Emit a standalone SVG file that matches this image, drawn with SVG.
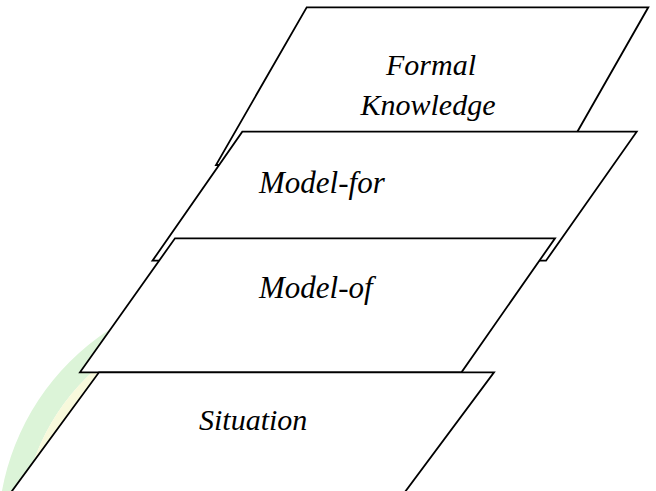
<svg xmlns="http://www.w3.org/2000/svg" width="656" height="491" viewBox="0 0 656 491">
  <style>
    .layer { fill: #ffffff; stroke: #000000; stroke-width: 1.8; stroke-linejoin: miter; }
    .lbl { font-family: "Liberation Serif", "Times New Roman", serif; font-style: italic; font-size: 30px; fill: #000000; }
    .big { font-size: 31px; }
  </style>
  <rect x="0" y="0" width="656" height="491" fill="#ffffff"/>
  <g id="watermark" fill="none">
    <path d="M 9.5 535 A 233.5 233.5 0 0 1 243 301.5" stroke="#dcf4d8" stroke-width="23"/>
    <path d="M 26 535 A 217 217 0 0 1 243 318" stroke="#f8f9dc" stroke-width="10"/>
  </g>
  <g id="formal-knowledge">
    <polygon class="layer" points="306.7,7.3 648.3,7.3 558.4,165 216,165"/>
    <text class="lbl" x="431" y="75" text-anchor="middle">Formal</text>
    <text class="lbl" x="428" y="115" text-anchor="middle">Knowledge</text>
  </g>
  <g id="model-for">
    <polygon class="layer" points="242.3,131.7 636.7,131.7 546,260.7 152.5,260.7"/>
    <text class="lbl big" x="259" y="193.3">Model-for</text>
  </g>
  <g id="model-of">
    <polygon class="layer" points="175,238.3 555,238.3 461.5,372.3 80,372.3"/>
    <text class="lbl big" x="259" y="298.3">Model-of</text>
  </g>
  <g id="situation">
    <polygon class="layer" points="99,372.3 494,372.3 399,500 5.4,500"/>
    <text class="lbl" x="199" y="430">Situation</text>
  </g>
</svg>
